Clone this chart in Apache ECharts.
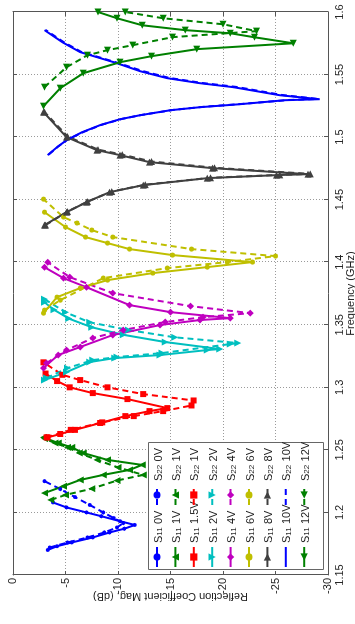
<!DOCTYPE html>
<html>
<head>
<meta charset="utf-8">
<script src="https://cdn.jsdelivr.net/npm/echarts@6/dist/echarts.min.js"></script>
<style>
  html, body { margin: 0; padding: 0; background: #fff; overflow: hidden; width: 355px; height: 624px; }
  /* The plot is laid out landscape and turned a quarter turn counter-clockwise */
  #chart { position: absolute; left: 0; top: 0; width: 624px; height: 355px;
           transform-origin: 0 0; transform: translate(0, 624px) rotate(-90deg); }
</style>
</head>
<body>
<div id="chart"></div>
<script>
// Frequency (GHz) and reflection magnitude (dB) for each bias voltage
const f_s11_0v  = [1.170, 1.173, 1.176, 1.180, 1.184, 1.187, 1.190, 1.193, 1.197, 1.200, 1.204, 1.208];
const db_s11_0v = [-3.3, -4.2, -5.6, -7.6, -9.2, -10.6, -11.6, -10.2, -8.4, -7.0, -5.1, -3.8];
const f_s22_0v  = [1.172, 1.176, 1.180, 1.184, 1.188, 1.1915, 1.1955, 1.200, 1.206, 1.2123, 1.2187, 1.225];
const db_s22_0v = [-3.5, -5.2, -7.1, -8.7, -9.9, -10.5, -9.6, -8.6, -7.3, -5.9, -4.5, -3.0];

const f_s11_1v  = [1.2155, 1.221, 1.226, 1.230, 1.234, 1.238, 1.242, 1.2475, 1.252, 1.2555, 1.260];
const db_s11_1v = [-3.0, -4.8, -6.4, -8.6, -11.1, -12.3, -9.0, -6.7, -5.6, -4.3, -2.9];
const f_s22_1v  = [1.210, 1.214, 1.219, 1.2255, 1.230, 1.236, 1.242, 1.2475, 1.252, 1.2555, 1.259];
const db_s22_1v = [-3.6, -5.0, -7.5, -9.9, -12.4, -10.0, -8.0, -6.3, -5.2, -4.0, -3.0];

const f_s11_15v  = [1.260, 1.2627, 1.266, 1.2715, 1.277, 1.281, 1.2834, 1.2906, 1.2954, 1.300, 1.305, 1.311];
const db_s11_15v = [-3.3, -4.5, -5.9, -8.3, -10.7, -13.0, -14.7, -10.9, -7.6, -5.4, -4.2, -3.1];
const f_s22_15v  = [1.260, 1.266, 1.272, 1.277, 1.281, 1.2855, 1.2895, 1.2946, 1.300, 1.3058, 1.310, 1.320];
const db_s22_15v = [-3.2, -5.5, -8.5, -11.5, -14.3, -17.0, -17.2, -12.4, -9.0, -6.4, -4.7, -2.9];

const f_s11_2v  = [1.3058, 1.3122, 1.3202, 1.3234, 1.3258, 1.3298, 1.3306, 1.3362, 1.342, 1.348, 1.355, 1.362, 1.368];
const db_s11_2v = [-3.0, -5.1, -7.3, -9.7, -14.0, -18.5, -19.7, -14.5, -10.5, -7.5, -5.3, -3.9, -3.0];
const f_s22_2v  = [1.3075, 1.3154, 1.3218, 1.3242, 1.3274, 1.3346, 1.3354, 1.340, 1.3458, 1.352, 1.360, 1.3705];
const db_s22_2v = [-3.2, -5.2, -7.6, -9.9, -14.2, -20.7, -21.4, -15.4, -11.0, -7.3, -5.0, -3.0];

const f_s11_4v  = [1.3154, 1.3258, 1.3322, 1.3418, 1.3498, 1.3538, 1.3553, 1.3601, 1.3657, 1.380, 1.3873, 1.396];
const db_s11_4v = [-2.9, -4.3, -6.4, -9.5, -14.0, -17.8, -20.7, -15.0, -11.1, -7.0, -4.8, -3.0];
const f_s22_4v  = [1.3194, 1.3298, 1.3394, 1.3458, 1.3522, 1.3561, 1.3593, 1.3649, 1.3753, 1.3881, 1.400];
const db_s22_4v = [-3.2, -5.1, -7.6, -10.5, -14.5, -18.1, -22.6, -16.9, -9.5, -5.4, -3.3];

const f_s11_6v  = [1.3593, 1.3721, 1.3793, 1.3857, 1.3913, 1.3961, 1.4001, 1.4057, 1.4105, 1.4153, 1.4201, 1.4281, 1.440];
const db_s11_6v = [-2.9, -4.2, -6.4, -9.0, -13.3, -18.5, -22.8, -15.2, -11.1, -9.0, -6.9, -5.0, -3.0];
const f_s22_6v  = [1.3617, 1.3697, 1.3873, 1.3953, 1.4001, 1.4049, 1.4105, 1.4201, 1.4257, 1.4313, 1.4361, 1.4504];
const db_s22_6v = [-3.0, -4.5, -8.6, -14.7, -20.4, -25.0, -17.0, -9.5, -7.5, -6.1, -4.8, -2.9];

const f_s11_8v  = [1.4297, 1.440, 1.448, 1.456, 1.4616, 1.4672, 1.4696, 1.4704, 1.4752, 1.480, 1.4856, 1.4896, 1.500, 1.520];
const db_s11_8v = [-3.0, -5.1, -7.0, -9.2, -12.4, -18.5, -25.1, -28.1, -19.0, -13.0, -10.2, -8.0, -5.1, -2.9];
const f_s22_8v  = [1.4297, 1.4405, 1.4485, 1.4565, 1.462, 1.4675, 1.4698, 1.4706, 1.4755, 1.4805, 1.486, 1.490, 1.5005, 1.520];
const db_s22_8v = [-3.1, -5.2, -7.1, -9.4, -12.6, -18.8, -25.4, -28.3, -19.2, -13.2, -10.4, -8.1, -5.2, -3.0];

const f_s11_10v  = [1.4856, 1.4920, 1.4976, 1.5040, 1.5096, 1.5143, 1.5175, 1.5215, 1.5239, 1.5263, 1.5295, 1.5303, 1.5335, 1.5399, 1.5431, 1.5471, 1.5527, 1.5591, 1.5639, 1.5679, 1.5759, 1.5855];
const db_s11_10v = [-3.3, -4.2, -5.1, -6.6, -8.3, -10.2, -12.1, -15.0, -17.8, -21.6, -25.9, -29.2, -25.4, -21.0, -17.8, -14.7, -12.1, -9.9, -8.0, -6.4, -4.7, -3.0];
const f_s22_10v  = [1.4860, 1.4925, 1.4980, 1.5044, 1.5100, 1.5146, 1.5178, 1.5218, 1.5242, 1.5266, 1.5297, 1.5305, 1.5337, 1.5401, 1.5433, 1.5473, 1.5529, 1.5593, 1.5641, 1.5681, 1.5761, 1.5857];
const db_s22_10v = [-3.4, -4.3, -5.2, -6.8, -8.5, -10.4, -12.3, -15.3, -18.1, -21.9, -26.3, -29.0, -25.6, -21.3, -18.0, -14.9, -12.3, -10.0, -8.1, -6.5, -4.8, -3.1];

const f_s11_12v  = [1.5247, 1.5391, 1.5511, 1.5599, 1.5647, 1.5703, 1.575, 1.5798, 1.583, 1.5855, 1.5894, 1.595, 1.600];
const db_s11_12v = [-2.9, -4.5, -6.7, -10.2, -13.2, -17.5, -26.7, -23.0, -20.7, -16.4, -12.3, -9.9, -8.1];
const f_s22_12v  = [1.5399, 1.5559, 1.5655, 1.5695, 1.5735, 1.5799, 1.5847, 1.5902, 1.595, 1.600];
const db_s22_12v = [-3.0, -5.1, -7.1, -9.0, -11.4, -15.2, -23.2, -20.0, -14.3, -10.7];

// Axis ticks
const freqTicks = { min: 1.15, max: 1.6, step: 0.05 };
const dbTicks = { min: -30, max: 0, step: 5 };

// Line styles per bias voltage
const BLUE = '#0000ff', GREEN = '#008000', RED = '#ff0000', CYAN = '#00bfbf',
      MAGENTA = '#bf00bf', OLIVE = '#bfbf00', GRAY = '#404040';

const curves = [
  { name: 'S11 0V',   f: f_s11_0v,   db: db_s11_0v,   color: BLUE,    dash: false, symbol: 'circle',   size: 4, rot: 0 },
  { name: 'S22 0V',   f: f_s22_0v,   db: db_s22_0v,   color: BLUE,    dash: true,  symbol: 'circle',   size: 4, rot: 0 },
  { name: 'S11 1V',   f: f_s11_1v,   db: db_s11_1v,   color: GREEN,   dash: false, symbol: 'triangle', size: 7, rot: 0 },
  { name: 'S22 1V',   f: f_s22_1v,   db: db_s22_1v,   color: GREEN,   dash: true,  symbol: 'triangle', size: 7, rot: 0 },
  { name: 'S11 1.5V', f: f_s11_15v,  db: db_s11_15v,  color: RED,     dash: false, symbol: 'rect',     size: 6, rot: 0 },
  { name: 'S22 1V ',  f: f_s22_15v,  db: db_s22_15v,  color: RED,     dash: true,  symbol: 'rect',     size: 6, rot: 0 },
  { name: 'S11 2V',   f: f_s11_2v,   db: db_s11_2v,   color: CYAN,    dash: false, symbol: 'triangle', size: 7, rot: 180 },
  { name: 'S22 2V',   f: f_s22_2v,   db: db_s22_2v,   color: CYAN,    dash: true,  symbol: 'triangle', size: 7, rot: 180 },
  { name: 'S11 4V',   f: f_s11_4v,   db: db_s11_4v,   color: MAGENTA, dash: false, symbol: 'diamond',  size: 7, rot: 0 },
  { name: 'S22 4V',   f: f_s22_4v,   db: db_s22_4v,   color: MAGENTA, dash: true,  symbol: 'diamond',  size: 7, rot: 0 },
  { name: 'S11 6V',   f: f_s11_6v,   db: db_s11_6v,   color: OLIVE,   dash: false, symbol: 'circle',   size: 5, rot: 0 },
  { name: 'S22 6V',   f: f_s22_6v,   db: db_s22_6v,   color: OLIVE,   dash: true,  symbol: 'circle',   size: 5, rot: 0 },
  { name: 'S11 8V',   f: f_s11_8v,   db: db_s11_8v,   color: GRAY,    dash: false, symbol: 'triangle', size: 7, rot: -90 },
  { name: 'S22 8V',   f: f_s22_8v,   db: db_s22_8v,   color: GRAY,    dash: true,  symbol: 'triangle', size: 7, rot: -90 },
  { name: 'S11 10V',  f: f_s11_10v,  db: db_s11_10v,  color: BLUE,    dash: false, symbol: 'none',     size: 0, rot: 0 },
  { name: 'S22 10V',  f: f_s22_10v,  db: db_s22_10v,  color: BLUE,    dash: true,  symbol: 'none',     size: 0, rot: 0 },
  { name: 'S11 12V',  f: f_s11_12v,  db: db_s11_12v,  color: GREEN,   dash: false, symbol: 'triangle', size: 7, rot: 90 },
  { name: 'S22 12V',  f: f_s22_12v,  db: db_s22_12v,  color: GREEN,   dash: true,  symbol: 'triangle', size: 7, rot: 90 }
];

const series = curves.map(c => ({
  name: c.name,
  type: 'line',
  data: c.f.map((f, i) => [f, c.db[i]]),
  color: c.color,
  symbol: c.symbol,
  symbolSize: c.size,
  symbolRotate: c.rot,
  showAllSymbol: true,
  lineStyle: { color: c.color, width: 2, type: c.dash ? [6, 4] : 'solid' },
  itemStyle: { color: c.color },
  emphasis: { disabled: true },
  animation: false,
  z: 2
}));

// Legend label: "S" with a subscript port number, then the bias voltage
function legendLabel(name) {
  const m = name.trim().match(/^S(\d+)\s+(.*)$/);
  return '{s|S}{sub|' + m[1] + '} {t|' + m[2] + '}';
}
const legendRich = {
  s:   { fontSize: 11, lineHeight: 14, verticalAlign: 'bottom', color: '#222', fontFamily: 'Liberation Sans' },
  sub: { fontSize: 8,  lineHeight: 9,  verticalAlign: 'bottom', color: '#222', fontFamily: 'Liberation Sans' },
  t:   { fontSize: 11, lineHeight: 14, verticalAlign: 'bottom', color: '#222', fontFamily: 'Liberation Sans' }
};
function legendItems(prefix) {
  return curves.filter(c => c.name.startsWith(prefix)).map(c =>
    c.symbol === 'none' ? { name: c.name, itemStyle: { opacity: 0 } } : { name: c.name });
}
function makeLegend(prefix, left) {
  return {
    orient: 'vertical', left: left, top: 151,
    itemWidth: 20, itemHeight: 9, itemGap: 5.4, padding: 0,
    selectedMode: false,
    data: legendItems(prefix),
    formatter: legendLabel,
    textStyle: { rich: legendRich, padding: [0, 0, 0, -1] }
  };
}

const fmtFreq = v => String(+v.toFixed(2));
const axisFont = { fontFamily: 'Liberation Sans', fontSize: 11, color: '#222' };
const gridLine = { show: true, lineStyle: { color: '#9a9a9a', type: [1, 2], width: 1 } };
const axisLine = { show: true, onZero: false, lineStyle: { color: '#555', width: 1 } };
const tick = { show: true, inside: true, length: 4, lineStyle: { color: '#555' } };

const chart = echarts.init(document.getElementById('chart'), null, { renderer: 'canvas' });
chart.setOption({
  backgroundColor: '#fff',
  animation: false,
  grid: { left: 49, right: 12, top: 13, bottom: 27, containLabel: false, outerBoundsMode: 'none' },
  xAxis: [{
    type: 'value', min: freqTicks.min, max: freqTicks.max, interval: freqTicks.step,
    position: 'bottom',
    name: 'Frequency (GHz)', nameLocation: 'middle', nameGap: 17, nameMoveOverlap: false,
    nameTextStyle: axisFont,
    axisLine: axisLine, axisTick: tick, splitLine: gridLine,
    axisLabel: Object.assign({ margin: 6, formatter: fmtFreq }, axisFont)
  }, {
    type: 'value', min: freqTicks.min, max: freqTicks.max, interval: freqTicks.step,
    position: 'top', axisLine: axisLine, axisTick: tick,
    axisLabel: { show: false }, splitLine: { show: false }
  }],
  yAxis: [{
    type: 'value', min: dbTicks.min, max: dbTicks.max, interval: dbTicks.step,
    position: 'left',
    name: 'Reflection Coefficient Mag. (dB)', nameLocation: 'middle', nameGap: 16, nameMoveOverlap: false,
    nameTextStyle: axisFont,
    axisLine: axisLine, axisTick: tick, splitLine: gridLine,
    axisLabel: Object.assign({ margin: 3 }, axisFont)
  }, {
    type: 'value', min: dbTicks.min, max: dbTicks.max, interval: dbTicks.step,
    position: 'right', axisLine: axisLine, axisTick: tick,
    axisLabel: { show: false }, splitLine: { show: false }
  }],
  legend: [makeLegend('S11', 56), makeLegend('S22', 118)],
  graphic: [{
    type: 'rect', left: 54, top: 148, z: 3,
    shape: { width: 127, height: 175 },
    style: { fill: '#fff', stroke: '#666', lineWidth: 1 }
  }],
  series: series
});
</script>
</body>
</html>
